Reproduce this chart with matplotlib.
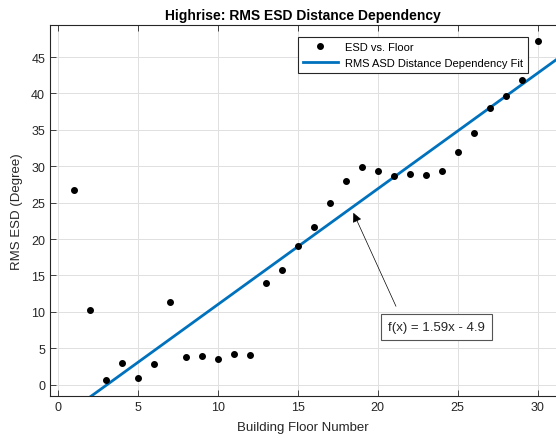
import numpy as np
import matplotlib.pyplot as plt

plt.rcParams["font.family"] = ["Liberation Sans", "DejaVu Sans"]

floors = [1, 2, 3, 4, 5, 6, 7, 8, 9, 10, 11, 12, 13, 14, 15,
          16, 17, 18, 19, 20, 21, 22, 23, 24, 25, 26, 27, 28, 29, 30]
esd = [26.8, 10.3, 0.7, 3.0, 0.95, 2.9, 11.3, 3.85, 3.9, 3.5, 4.2, 4.1, 14.0, 15.8, 19.0,
       21.7, 25.0, 28.0, 29.9, 29.4, 28.6, 28.9, 28.8, 29.3, 31.9, 34.6, 38.0, 39.7, 41.9, 47.2]
fit_slope = 1.59
fit_intercept = -4.9
fit_label = "f(x) = 1.59x - 4.9"

W, H = 556, 439
fig = plt.figure(figsize=(W / 100, H / 100), dpi=100)
ax = fig.add_axes([50 / W, (H - 397) / H, (W - 50) / W, (397 - 26) / H])

gray = "#262626"
fit_x = np.array([min(floors) - 1, max(floors) + 5])
ax.plot(floors, esd, "o", color="k", markersize=4, label="ESD vs. Floor", zorder=3)
ax.plot(fit_x, fit_slope * fit_x + fit_intercept, color="#0072BD", lw=2,
        label="RMS ASD Distance Dependency Fit", zorder=2)

ax.set_xlim(-0.48, 31.14)
ax.set_ylim(-1.55, 49.4)
ax.set_xticks(range(0, 31, 5))
ax.set_yticks(range(0, 46, 5))
ax.tick_params(direction="in", top=True, right=False, labelsize=9, colors=gray,
               length=4, width=0.6)
ax.spines["right"].set_visible(False)
for s in ["left", "bottom", "top"]:
    ax.spines[s].set_color(gray)
    ax.spines[s].set_linewidth(0.8)
ax.grid(True, color="#e0e0e0", lw=0.7)
ax.set_axisbelow(True)

ax.set_title("Highrise: RMS ESD Distance Dependency", fontsize=10, fontweight="bold", pad=4)
ax.set_xlabel("Building Floor Number", fontsize=9.5, color=gray, labelpad=6)
ax.set_ylabel("RMS ESD (Degree)", fontsize=9.5, color=gray, labelpad=6)

leg = ax.legend(loc="upper left", bbox_to_anchor=(15.0, 47.8), bbox_transform=ax.transData,
                fontsize=8, frameon=True, fancybox=False, borderaxespad=0,
                handlelength=3.2, borderpad=0.45, labelspacing=0.55, handletextpad=0.6)
leg.get_frame().set_edgecolor(gray)
leg.get_frame().set_linewidth(0.8)
leg.get_frame().set_alpha(1)

ax.annotate("", xy=(18.48, 23.6), xytext=(21.14, 10.77),
            arrowprops=dict(arrowstyle="-|>", color="k", lw=0.5, mutation_scale=14,
                            shrinkA=0, shrinkB=0))
ax.text(23.69, 7.95, fit_label, fontsize=9.5, ha="center", va="center", color=gray,
        bbox=dict(boxstyle="square,pad=0.55", fc="white", ec="#555555", lw=0.8))

fig.savefig("out.png", dpi=100)
